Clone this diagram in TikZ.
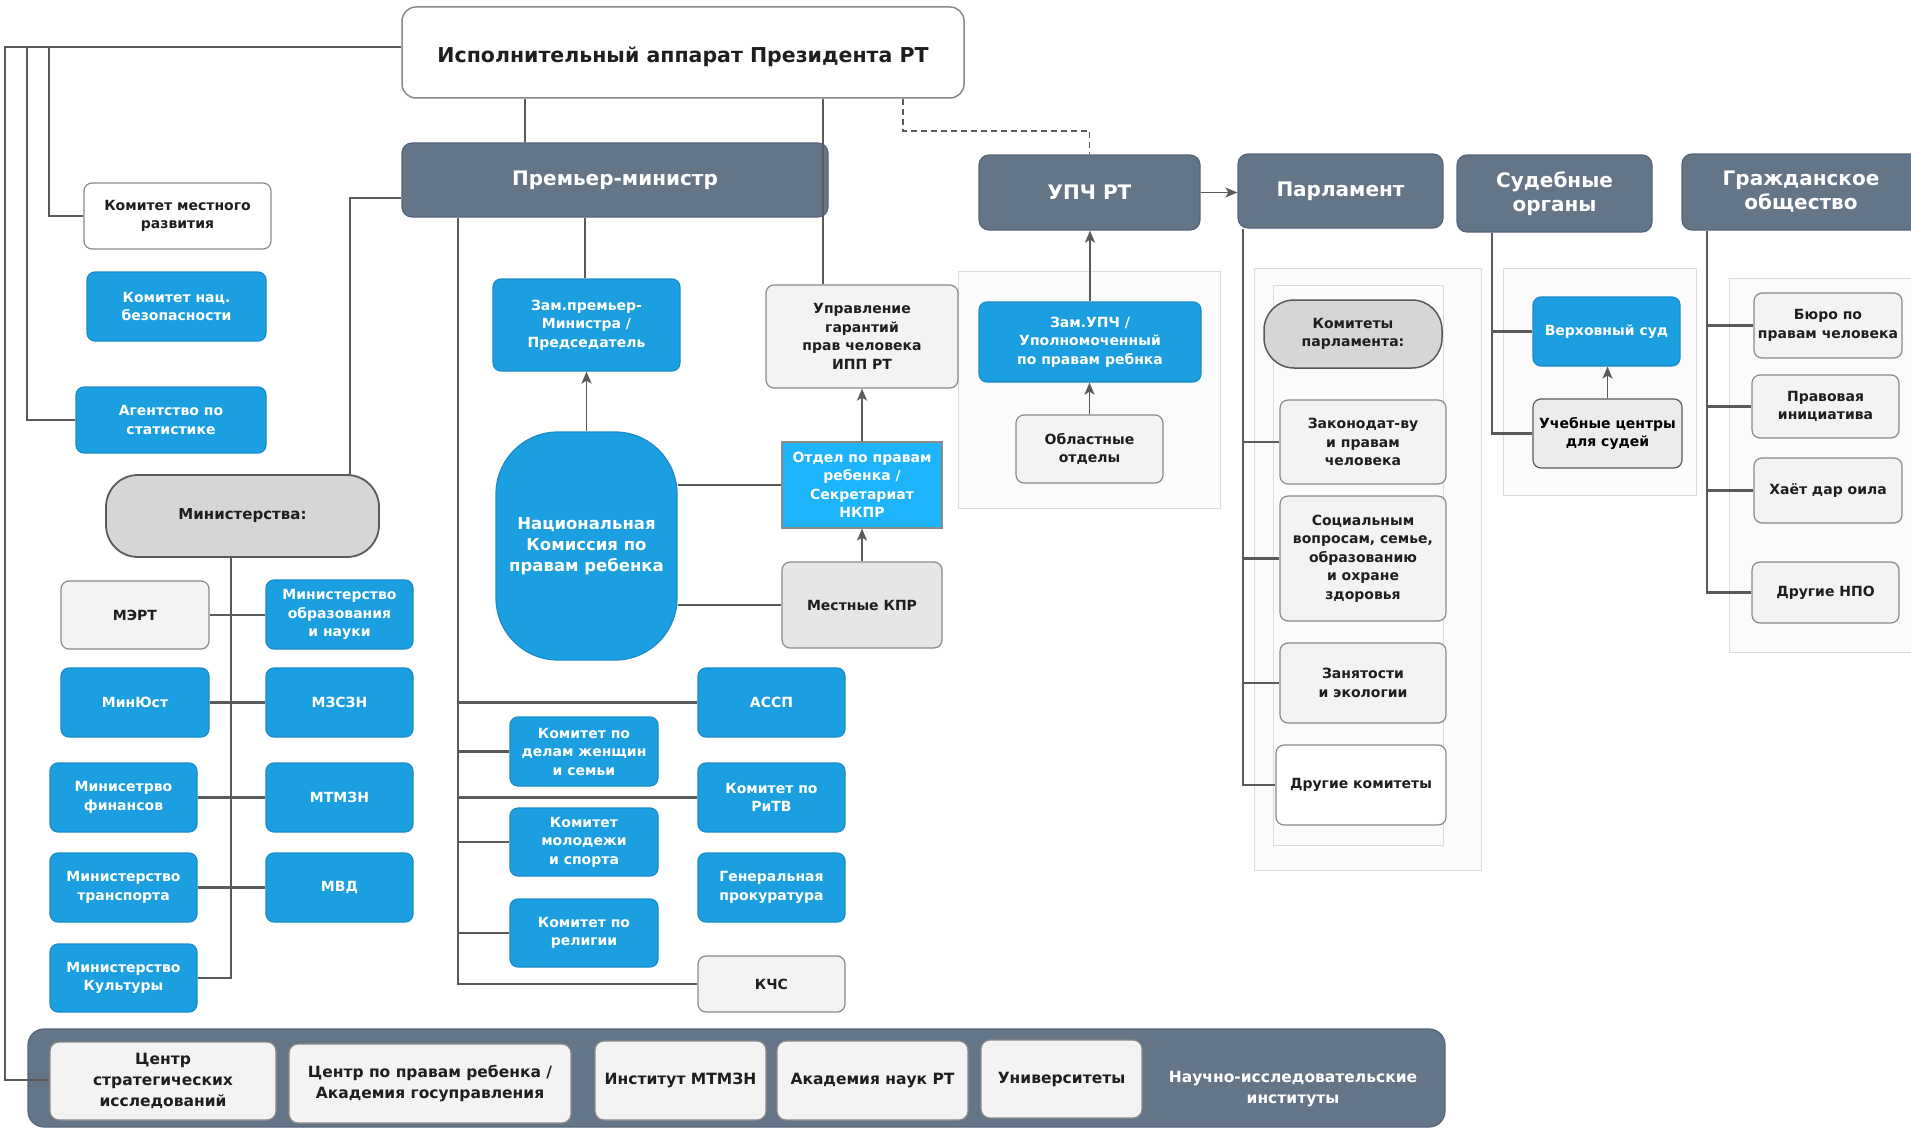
\documentclass[tikz,border=0pt]{standalone}
\usepackage{fontspec}
\setmainfont{DejaVu Sans}
\usetikzlibrary{arrows.meta}
\definecolor{cslate}{HTML}{647587}
\definecolor{cslateb}{HTML}{56657A}
\definecolor{cblue}{HTML}{1C9FE0}
\definecolor{cblueb}{HTML}{1A8CC8}
\definecolor{cbright}{HTML}{1EB4FB}
\definecolor{clight}{HTML}{F3F3F3}
\definecolor{cmid}{HTML}{D6D6D6}
\definecolor{ckpr}{HTML}{E6E6E6}
\definecolor{cuch}{HTML}{ECECEC}
\definecolor{cborder}{HTML}{8A8A8A}
\definecolor{cline}{HTML}{5A5A5A}
\definecolor{cpanel}{HTML}{FBFBFB}
\definecolor{cpanelb}{HTML}{DCDCDC}
\definecolor{ctext}{HTML}{1E1E1E}
\newcommand\bx[5]{\node[#1,minimum width={(#4-#2)*1pt},minimum height={(#5-#3)*1pt}] at ({(#2+#4)/2},{(#3+#5)/2})}
\begin{document}
\begin{tikzpicture}[x=1pt,y=-1pt,
  basebx/.style={rounded corners=8pt, line width=1.2pt, align=center, inner sep=1pt,
    font=\bfseries\fontsize{14}{18.5}\selectfont, text=ctext},
  bluebx/.style={basebx, fill=cblue, draw=cblueb, text=white},
  graybx/.style={basebx, fill=clight, draw=cborder},
  whitebx/.style={basebx, fill=white, draw=cborder},
  slatebx/.style={basebx, fill=cslate, draw=cslateb, text=white, rounded corners=10pt,
    font=\bfseries\fontsize{20}{24}\selectfont},
  pillbx/.style={basebx, fill=cmid, draw=cline, line width=1.8pt, rounded corners=32pt,
    font=\bfseries\fontsize{15}{19}\selectfont},
  panelbx/.style={draw=cpanelb, fill=cpanel, line width=1pt, inner sep=0pt},
  botbx/.style={graybx, fill=clight, draw=cborder, rounded corners=9pt,
    font=\bfseries\fontsize{15.5}{21}\selectfont},
  conn/.style={draw=cline, line width=2.2pt},
  thinconn/.style={draw=cline, line width=1.5pt},
  arrconn/.style={draw=cline, line width=1.7pt, -{Stealth[length=12pt,width=10pt,inset=3pt]}},
]
\useasboundingbox (0,0) rectangle (1911,1129);
\fill[white] (0,0) rectangle (1911,1129);

% background panels
\bx{panelbx}{958}{271}{1220}{508} (pupch) {};
\bx{panelbx}{1254}{268}{1481}{870} (pparl) {};
\bx{panelbx}{1273}{285}{1443}{845} (pparlin) {};
\bx{panelbx}{1503}{268}{1696}{495} (psud) {};
\bx{panelbx}{1729}{278}{1915}{652} (pgr) {};

% bottom bar
\bx{slatebx, rounded corners=16pt}{28}{1029}{1445}{1127} (bar) {};

% top
\bx{whitebx, rounded corners=14pt, line width=1.5pt, font=\bfseries\fontsize{20.5}{24}\selectfont}{402}{7}{964}{98} (top) {\rule{0pt}{25pt}Исполнительный аппарат Президента РТ};
\bx{slatebx}{402}{143}{828}{217} (pm) {Премьер-министр};

% left column
\bx{whitebx}{84}{183}{271}{249} (kmr) {Комитет местного\\развития};
\bx{bluebx}{87}{272}{266}{341} (kns) {Комитет нац.\\безопасности};
\bx{bluebx}{76}{387}{266}{453} (stat) {Агентство по\\статистике};
\bx{pillbx}{106}{475}{379}{557} (min) {Министерства:};

\bx{graybx}{61}{581}{209}{649} (mert) {МЭРТ};
\bx{bluebx}{266}{580}{413}{649} (obr) {Министерство\\образования\\и науки};
\bx{bluebx}{61}{668}{209}{737} (yust) {МинЮст};
\bx{bluebx}{266}{668}{413}{737} (mzszn) {МЗСЗН};
\bx{bluebx}{50}{763}{197}{832} (fin) {Минисетрво\\финансов};
\bx{bluebx}{266}{763}{413}{832} (mtmzn) {МТМЗН};
\bx{bluebx}{50}{853}{197}{922} (trans) {Министерство\\транспорта};
\bx{bluebx}{266}{853}{413}{922} (mvd) {МВД};
\bx{bluebx}{50}{944}{197}{1012} (kult) {Министерство\\Культуры};

% PM subordinates
\bx{bluebx}{493}{279}{680}{371} (zam) {Зам.премьер-\\Министра /\\Председатель};
\bx{graybx}{766}{285}{958}{388} (upr) {Управление\\гарантий\\прав человека\\ИПП РТ};
\bx{bluebx, rounded corners=62pt, font=\bfseries\fontsize{16.5}{21}\selectfont}{496}{432}{677}{660} (nk) {Национальная\\Комиссия по\\правам ребенка};
\bx{basebx, rounded corners=0pt, fill=cbright, draw=cborder, text=white}{782}{442}{942}{528} (otd) {Отдел по правам\\ребенка /\\Секретариат\\НКПР};
\bx{graybx, fill=ckpr}{782}{562}{942}{648} (mkpr) {Местные КПР};

\bx{bluebx}{698}{668}{845}{737} (assp) {АССП};
\bx{bluebx}{510}{717}{658}{786} (kw) {Комитет по\\делам женщин\\и семьи};
\bx{bluebx}{698}{763}{845}{832} (ritv) {Комитет по\\РиТВ};
\bx{bluebx}{510}{808}{658}{876} (kms) {Комитет\\молодежи\\и спорта};
\bx{bluebx}{698}{853}{845}{922} (gp) {Генеральная\\прокуратура};
\bx{bluebx}{510}{899}{658}{967} (rel) {Комитет по\\религии};
\bx{graybx}{698}{956}{845}{1012} (kchs) {КЧС};

% right headers
\bx{slatebx}{979}{155}{1200}{230} (upch) {УПЧ РТ};
\bx{slatebx}{1238}{154}{1443}{228} (parl) {Парламент};
\bx{slatebx}{1457}{155}{1652}{232} (sud) {Судебные\\органы};
\bx{slatebx}{1682}{154}{1920}{230} (gr) {Гражданское\\общество};

% UPCh
\bx{bluebx}{979}{302}{1201}{382} (zupch) {Зам.УПЧ /\\Уполномоченный\\по правам ребнка};
\bx{graybx}{1016}{415}{1163}{483} (obl) {Областные\\отделы};

% parliament
\bx{pillbx, line width=1.5pt, rounded corners=30pt, font=\bfseries\fontsize{14}{18.5}\selectfont}{1264}{300}{1442}{368} (kp) {Комитеты\\парламента:};
\bx{graybx}{1280}{400}{1446}{484} (zak) {Законодат-ву\\и правам\\человека};
\bx{graybx}{1280}{496}{1446}{621} (soc) {Социальным\\вопросам, семье,\\образованию\\и охране\\здоровья};
\bx{graybx}{1280}{643}{1446}{723} (zan) {Занятости\\и экологии};
\bx{whitebx}{1276}{745}{1446}{825} (drk) {Другие комитеты};

% courts
\bx{bluebx}{1533}{297}{1680}{366} (vs) {Верховный суд};
\bx{graybx, fill=cuch, draw=cline, text=black}{1533}{399}{1682}{468} (uch) {Учебные центры\\для судей};

% civil society
\bx{graybx}{1754}{293}{1902}{358} (byuro) {Бюро по\\правам человека};
\bx{graybx}{1752}{375}{1899}{438} (prav) {Правовая\\инициатива};
\bx{graybx}{1754}{458}{1902}{523} (hayot) {Хаёт дар оила};
\bx{graybx}{1752}{562}{1899}{623} (dnpo) {Другие НПО};

% bottom bar contents
\bx{botbx}{50}{1042}{276}{1120} (cs) {Центр\\стратегических\\исследований};
\bx{botbx}{289}{1044}{571}{1123} (cpr) {Центр по правам ребенка /\\Академия госуправления};
\bx{botbx}{595}{1041}{766}{1120} (inst) {Институт МТМЗН};
\bx{botbx}{777}{1041}{968}{1120} (an) {Академия наук РТ};
\bx{botbx}{981}{1040}{1142}{1118} (univ) {Университеты};
\node[align=center, text=white, font=\bfseries\fontsize{15.5}{21}\selectfont] (nii) at (1293,1089) {Научно-исследовательские\\институты};

% ===== connectors =====
\draw[conn] (525,0 |- top.south) -- (525,0 |- pm.north);
\draw[thinconn] (823,0 |- top.south) -- (823,0 |- upr.north);
\draw[thinconn, dash pattern=on 6pt off 4pt] (903,0 |- top.south) -- (903,131) -| (upch.north);

\draw[thinconn] (top.west |- 0,47) -- (5,47) |- (cs.west |- 0,1080);
\draw[thinconn] (27,47) |- (stat.west);
\draw[thinconn] (49,47) |- (kmr.west);

\draw[thinconn] (350,0 |- min.north) |- (pm.west |- 0,198);
\draw[conn] (231,0 |- min.south) |- (kult.east);
\draw[conn] (mert.east) -- (mert.east -| obr.west);
\draw[conn] (yust.east) -- (yust.east -| mzszn.west);
\draw[conn] (fin.east) -- (fin.east -| mtmzn.west);
\draw[conn] (trans.east) -- (trans.east -| mvd.west);

\draw[conn] (458,0 |- pm.south) |- (kchs.west);
\draw[conn] (458,0 |- assp.west) -- (assp.west);
\draw[conn] (458,0 |- kw.west) -- (kw.west);
\draw[conn] (458,0 |- ritv.west) -- (ritv.west);
\draw[conn] (458,0 |- kms.west) -- (kms.west);
\draw[conn] (458,0 |- rel.west) -- (rel.west);

\draw[thinconn] (585,0 |- pm.south) -- (585,0 |- zam.north);
\draw[arrconn] (nk.north) -- (nk.north |- zam.south);
\draw[arrconn] (otd.north) -- (otd.north |- upr.south);
\draw[arrconn] (mkpr.north) -- (otd.south);
\draw[conn] (otd.west -| nk.east) -- (otd.west);
\draw[conn] (mkpr.west -| nk.east) -- (mkpr.west);

\draw[arrconn] (upch.east) -- (upch.east -| parl.west);
\draw[arrconn] (zupch.north) -- (zupch.north |- upch.south);
\draw[arrconn] (obl.north) -- (obl.north |- zupch.south);

\draw[conn] (1243,0 |- parl.south) |- (drk.west);
\draw[conn] (1243,0 |- zak.west) -- (zak.west);
\draw[conn] (1243,0 |- soc.west) -- (soc.west);
\draw[conn] (1243,0 |- zan.west) -- (zan.west);

\draw[conn] (1492,0 |- sud.south) |- (uch.west);
\draw[conn] (1492,0 |- vs.west) -- (vs.west);
\draw[arrconn] (uch.north) -- (uch.north |- vs.south);

\draw[conn] (1707,0 |- gr.south) |- (dnpo.west);
\draw[conn] (1707,0 |- byuro.west) -- (byuro.west);
\draw[conn] (1707,0 |- prav.west) -- (prav.west);
\draw[conn] (1707,0 |- hayot.west) -- (hayot.west);
\end{tikzpicture}
\end{document}
